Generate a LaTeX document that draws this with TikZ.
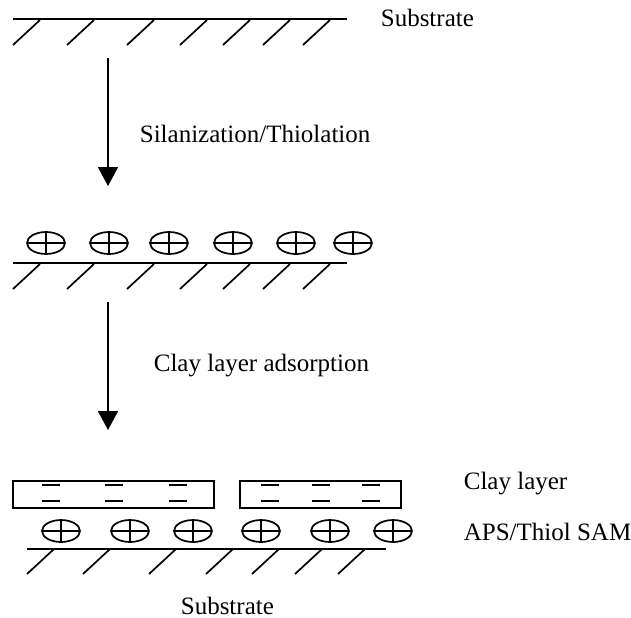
\documentclass[tikz,border=0pt]{standalone}
\usepackage{fontspec}
\setmainfont{Liberation Serif}
\usetikzlibrary{arrows.meta}
\newcommand{\plusion}[1]{\draw (#1) ellipse (19 and 11) (#1) +(-19,0) -- +(19,0) (#1) +(0,-11) -- +(0,11);}
\newcommand{\minusion}[1]{\draw (#1) +(-9,0) -- +(9,0);}
\newcommand{\hatches}[2]{\foreach \x in {#2} \draw (\x,{#1+25}) -- ++(27,-25);}

\begin{document}
\begin{tikzpicture}[x=0.5pt,y=-0.5pt,line width=0.85pt,
  lbl/.style={anchor=base west,inner sep=0pt,font=\fontsize{12.5}{15}\selectfont},
  step arrow/.style={-{Triangle[length=9.5pt,width=10pt]}}]
\useasboundingbox (0,0) rectangle (631,617);
% bare substrate
\draw (13,19) -- (347,19);
\hatches{20}{13,67,127,180,223,263,303}
\node[lbl] (sub1) at (380,26) {Substrate};

\coordinate (s1) at (108,58);
\coordinate (e1) at (108,186);
\draw[step arrow] (s1) -- (e1);
\node[lbl] (silan) at (139,142) {Silanization/Thiolation};

% SAM on substrate
\foreach \x [count=\i] in {46,109,169,233,296,353} {
 \coordinate (p\i) at (\x,243);
 \plusion{p\i}
 }
\draw (13,263) -- (347,263);
\hatches{264}{13,67,127,180,223,263,303}

\coordinate (s2) at (108,302);
\coordinate (e2) at (108,430);
\draw[step arrow] (s2) -- (e2);
\node[lbl] (adsorb) at (153,371) {Clay layer adsorption};

% clay on SAM
\draw (13,481) rectangle (214,508) (240,481) rectangle (401,508);
\foreach \x [count=\i] in {51,114,178,270,321,371} {
 \coordinate (m\i) at (\x,485);
 \coordinate (n\i) at (\x,501);
 \minusion{m\i} \minusion{n\i}
 }
\foreach \x [count=\i] in {61,130,193,261,330,393} {
 \coordinate (q\i) at (\x,531);
 \plusion{q\i}
 }
\draw (27,549) -- (386,549);
\hatches{549}{27,83,149,206,252,295,338}
\node[lbl] (clay) at (463,489) {Clay layer};
\node[lbl] (sam) at (463,540) {APS/Thiol SAM};
\node[lbl] (sub2) at (180,614) {Substrate};
\end{tikzpicture}
\end{document}
